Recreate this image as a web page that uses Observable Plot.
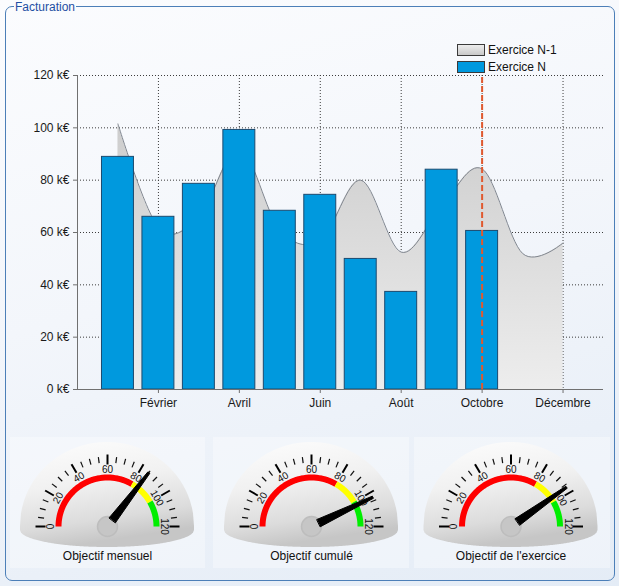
<!DOCTYPE html>
<html><head><meta charset="utf-8">
<script src="https://cdn.jsdelivr.net/npm/d3@7"></script>
<script src="https://cdn.jsdelivr.net/npm/@observablehq/plot@0.6"></script>
<style>
html,body{margin:0;padding:0;}
body{width:619px;height:586px;overflow:hidden;font-family:"Liberation Sans",Arial,sans-serif;}
#root{position:relative;width:619px;height:586px;background:linear-gradient(165deg,#fbfcfe 0%,#f3f6fb 45%,#e4ecf6 100%);}
#box{position:absolute;left:5px;top:6px;width:610px;height:575px;border:1px solid #4c7fb8;border-radius:7px;box-sizing:border-box;}
#title{position:absolute;left:14px;top:0px;font-size:12px;line-height:14px;color:#1f4fa3;background:#fafbfd;padding:0 1px;}
#chart{position:absolute;left:0;top:0;}
.panel{position:absolute;top:437px;height:131px;background:rgba(255,255,255,0.35);}
#gauges{position:absolute;left:0;top:430px;}
.leg{position:absolute;font-size:12px;color:#111;line-height:14px;}
.sw{position:absolute;width:26px;height:10px;border:1px solid #3a3a3a;}
</style></head>
<body><div id="root">
<div id="box"></div>
<div id="title">Facturation</div>
<div class="panel" style="left:10px;width:195px"></div>
<div class="panel" style="left:213px;width:196px"></div>
<div class="panel" style="left:414px;width:196px"></div>
<div id="chart"></div>
<div id="gauges"></div>
<div class="sw" style="left:457px;top:44px;background:linear-gradient(#ededed,#c9c9c9)"></div>
<div class="leg" style="left:488px;top:43px">Exercice N-1</div>
<div class="sw" style="left:457px;top:61px;background:#0099de"></div>
<div class="leg" style="left:488px;top:60px">Exercice N</div>
</div>
<script>
// ---- data ----
const months = ["Janvier","Février","Mars","Avril","Mai","Juin","Juillet","Août","Septembre","Octobre","Novembre","Décembre"];
const exerciceN1 = [101.5, 62, 66, 92, 61, 57, 80, 52.5, 70, 84.3, 52, 56];
const exerciceN = [88.9, 66.0, 78.6, 99.2, 68.3, 74.4, 49.9, 37.3, 84.0, 60.6];
const currentMonth = 10;
const yTicks = [0, 20, 40, 60, 80, 100, 120];
const xTickMonths = [2, 4, 6, 8, 10, 12];
const gaugeLabels = ["Objectif mensuel", "Objectif cumulé", "Objectif de l'exercice"];
const gaugeValues = [85, 103, 96.5];
const gaugeMajorTicks = [0, 20, 40, 60, 80, 100, 120];
const gaugeMinorStep = 5;
const bandLimits = [0, 80, 100, 120];
const bandColors = ["#ff0000", "#ffff00", "#00ee00"];

// ---- main chart ----
const dataN1 = months.map((m, i) => ({month: i + 1, value: exerciceN1[i]}));
const dataN = exerciceN.map((v, i) => ({month: i + 1, value: v}));
const grid = {stroke: "#3c3c3c", strokeOpacity: 1, strokeDasharray: "1,2"};
const chart = Plot.plot({
  width: 619, height: 425,
  marginLeft: 77, marginRight: 16, marginTop: 75, marginBottom: 36,
  style: {background: "transparent", fontFamily: "Liberation Sans, Arial, sans-serif", fontSize: "12px", color: "#1a1a1a"},
  x: {domain: [0, 13]},
  y: {domain: [0, 120]},
  marks: [
    Plot.gridY(yTicks.filter(t => t > 0), grid),
    Plot.gridX(xTickMonths, grid),
    Plot.areaY(dataN1, {x: "month", y1: 0, y2: "value", curve: "cardinal", fill: "url(#n1Grad)"}),
    Plot.line(dataN1, {x: "month", y: "value", curve: "cardinal", stroke: "#80868f", strokeWidth: 1}),
    Plot.rect(dataN, {x1: d => d.month - 0.395, x2: d => d.month + 0.395, y1: 0, y2: "value", fill: "#0099de", stroke: "#1b4a6f", strokeWidth: 1}),
    Plot.ruleX([currentMonth], {y1: 0, y2: 120, stroke: "#e0592f", strokeWidth: 2, strokeDasharray: "6,3"}),
    Plot.ruleX([0], {y1: 0, y2: 120, stroke: "#707070"}),
    Plot.ruleY([0], {stroke: "#707070"}),
    Plot.axisY(yTicks, {tickFormat: d => d + " k€", tickSize: 4, tickPadding: 4, label: null, stroke: "#707070"}),
    Plot.axisX(xTickMonths, {tickFormat: i => months[i - 1], tickSize: 4, tickPadding: 5, label: null, stroke: "#707070"})
  ]
});
d3.select(chart).insert("defs", ":first-child").html(
  '<linearGradient id="n1Grad" x1="0" y1="0" x2="0" y2="1"><stop offset="0" stop-color="#cdcdcd"/><stop offset="1" stop-color="#ededed"/></linearGradient>');
document.getElementById("chart").append(chart);

// ---- gauges ----
const hubX = [107, 311, 510.5];
const maxV = gaugeMajorTicks[gaugeMajorTicks.length - 1];
const ang = v => Math.PI * (1 - v / maxV);
const pol = (g, r, v) => ({g, x: hubX[g] + r * Math.cos(ang(v)), y: r * Math.sin(ang(v))});

const face = [];
hubX.forEach((cx, g) => {
  for (let dx = -87; dx <= 87; dx += 1) {
    const s = Math.sqrt(Math.max(0, 1 - (dx / 87) ** 2));
    face.push({g, x: cx + dx, t: 84 * s, b: -(4 + 17 * s)});
  }
});
const bandMarks = bandColors.map((c, k) => {
  const pts = [];
  hubX.forEach((cx, g) => {
    for (let i = 0; i <= 40; i++) {
      const v = bandLimits[k] + (bandLimits[k + 1] - bandLimits[k]) * i / 40;
      pts.push(pol(g, 49, v));
    }
  });
  return Plot.line(pts, {x: "x", y: "y", z: "g", stroke: c, strokeWidth: 6, strokeLinecap: "butt"});
});
const majors = [], minors = [], labels = [];
hubX.forEach((cx, g) => {
  for (let v = 0; v <= maxV; v += gaugeMinorStep) {
    const isMajor = gaugeMajorTicks.includes(v);
    const a = pol(g, isMajor ? 62 : 64, v), b = pol(g, isMajor ? 72 : 70, v);
    (isMajor ? majors : minors).push({x1: a.x, y1: a.y, x2: b.x, y2: b.y});
  }
  gaugeMajorTicks.forEach(v => {
    const p = pol(g, 57, v);
    labels.push({x: p.x, y: p.y, text: String(v), rot: v / maxV * 180 - 90});
  });
});
const needles = [];
gaugeValues.forEach((v, g) => {
  const a = ang(v), c = Math.cos(a), s = Math.sin(a);
  const px = -s, py = c;
  const base = 4, tipW = 1.2;
  const pts = [[8, base], [68, tipW], [68, -tipW], [8, -base]];
  pts.forEach(([r, w]) => needles.push({g, x: hubX[g] + r * c + w * px, y: r * s + w * py}));
});
const gauges = Plot.plot({
  width: 619, height: 156, margin: 0,
  x: {domain: [0, 619]}, y: {domain: [-60, 96]},
  style: {background: "transparent", fontFamily: "Liberation Sans, Arial, sans-serif", color: "#111"},
  marks: [
    Plot.areaY(face, {x: "x", y1: "b", y2: "t", z: "g", fill: "url(#faceGrad)"}),
    ...bandMarks,
    Plot.link(minors, {x1: "x1", y1: "y1", x2: "x2", y2: "y2", stroke: "#111", strokeWidth: 1.2}),
    Plot.link(majors, {x1: "x1", y1: "y1", x2: "x2", y2: "y2", stroke: "#000", strokeWidth: 2}),
    Plot.text(labels, {x: "x", y: "y", text: "text", rotate: "rot", fontSize: 10, fill: "#111"}),
    Plot.dot(hubX, {x: d => d, y: 0, r: 10, fill: "#c6c6c6", stroke: "#bdbdbd"}),
    Plot.line(needles, {x: "x", y: "y", z: "g", curve: "linear-closed", fill: "#000", stroke: "#000", strokeWidth: 1}),
    Plot.text(gaugeLabels, {x: (d, i) => hubX[i], y: -30, text: d => d, fontSize: 12, fill: "#111"})
  ]
});
d3.select(gauges).insert("defs", ":first-child").html(
  '<linearGradient id="faceGrad" x1="0" y1="0" x2="0.25" y2="1"><stop offset="0" stop-color="#fdfdfd"/><stop offset="0.45" stop-color="#f1f1f1"/><stop offset="0.8" stop-color="#dcdcdc"/><stop offset="1" stop-color="#c6c6c6"/></linearGradient>');
document.getElementById("gauges").append(gauges);
</script>
</body></html>
